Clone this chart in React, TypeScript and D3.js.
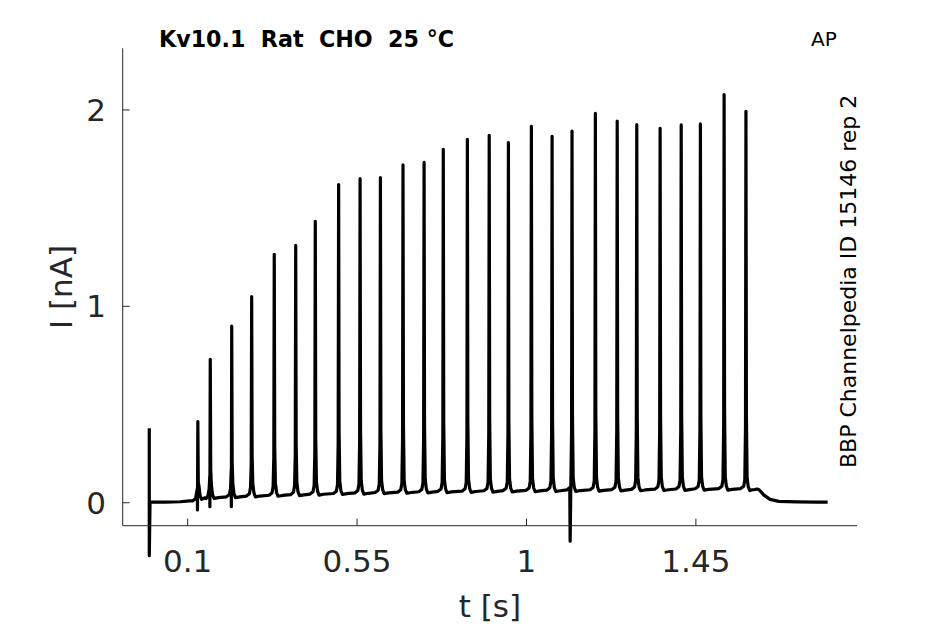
import * as d3 from "d3";

// AP train recording
const spikeT = [0.127, 0.160, 0.217, 0.270, 0.330, 0.387, 0.439, 0.501, 0.558, 0.612, 0.672, 0.728, 0.779, 0.843, 0.901, 0.952, 1.013, 1.068, 1.121, 1.183, 1.241, 1.293, 1.355, 1.411, 1.462, 1.525, 1.583];
const spikePeak = [0.413, 0.73, 0.90, 1.05, 1.265, 1.31, 1.433, 1.62, 1.65, 1.656, 1.72, 1.733, 1.80, 1.85, 1.871, 1.834, 1.917, 1.866, 1.892, 1.983, 1.943, 1.925, 1.907, 1.924, 1.929, 2.078, 1.993];
// inter-spike level after each spike
const spikeFloor = [0.025, 0.03, 0.034, 0.038, 0.041, 0.044, 0.047, 0.05, 0.052, 0.054, 0.056, 0.058, 0.059, 0.061, 0.062, 0.063, 0.064, 0.065, 0.066, 0.067, 0.068, 0.069, 0.07, 0.071, 0.072, 0.072, 0.07];

// stimulus artifact at the start
const stimT = -0.002;
const stimHi = 0.379;
const stimLo = -0.27;

// downward artifacts
const dipT = [0.126, 0.159, 0.216, 1.116];
const dipI = [-0.037, -0.02, -0.02, -0.196];

// resting trace before and after the train
const preT = [0.0, 0.04, 0.08, 0.105];
const preI = [0.003, 0.003, 0.005, 0.009];
const postT = [1.600, 1.612, 1.618, 1.630, 1.647, 1.67, 1.72, 1.77, 1.80];
const postI = [0.066, 0.07, 0.066, 0.04, 0.017, 0.007, 0.004, 0.003, 0.003];

const xTicks = [0.1, 0.55, 1, 1.45];
const yTicks = [0, 1, 2];

const width = 945;
const height = 624;
const left = 122.7, right = 857, top = 48.3, bottom = 525.7;
const ink = "#262626";

// spike shape around each event (seconds, nA relative to floor)
const rise = [[-0.014, 0], [-0.006, 0.012], [-0.003, 0.045], [-0.0012, 0.16]];
const fall = [[0.0012, 0.2], [0.003, 0.06], [0.006, 0.012], [0.010, -0.008], [0.022, -0.004]];

function buildTrace() {
  const pts: [number, number][] = [];
  pts.push([stimT, stimHi], [stimT, stimLo]);
  preT.forEach((t, i) => pts.push([t, preI[i]]));
  let prev = preI[preI.length - 1];
  spikeT.forEach((t, i) => {
    rise.forEach(([dt, dv]) => pts.push([t + dt, prev + (dv > 0.1 ? dv * (spikePeak[i] - prev) : dv)]));
    pts.push([t, spikePeak[i]]);
    const f = spikeFloor[i];
    fall.forEach(([dt, dv]) => pts.push([t + dt, f + (dv > 0.1 ? dv * (spikePeak[i] - f) : dv)]));
    prev = f;
  });
  dipT.forEach((d, j) => pts.push([d, dipI[j]]));
  postT.forEach((t, i) => pts.push([t, postI[i]]));
  return pts.sort((a, b) => a[0] - b[0]);
}

export default function App() {
  const x = d3.scaleLinear([-0.0726, 1.878], [left, right]);
  const y = d3.scaleLinear([-0.117, 2.314], [bottom, top]);
  const line = d3.line<[number, number]>().x(d => x(d[0])).y(d => y(d[1]));
  const trace = buildTrace();

  return (
    <svg width={width} height={height} style={{ position: "absolute", left: 0, top: 0, background: "#fff" }}
      fontFamily="DejaVu Sans">
      <path d={line(trace) ?? ""} fill="none" stroke="#000" strokeWidth={3.2} strokeLinejoin="round" />

      <g stroke={ink} strokeWidth={1} fill="none">
        <line x1={left} x2={left} y1={top} y2={bottom} />
        <line x1={left} x2={right} y1={bottom} y2={bottom} />
        {xTicks.map(t => <line key={t} x1={x(t)} x2={x(t)} y1={bottom} y2={bottom - 7} />)}
        {yTicks.map(t => <line key={t} x1={left} x2={left + 7} y1={y(t)} y2={y(t)} />)}
      </g>

      <g fill={ink} fontSize={31}>
        {xTicks.map(t => (
          <text key={t} x={x(t)} y={572} textAnchor="middle">{String(t)}</text>
        ))}
        {yTicks.map(t => (
          <text key={t} x={106} y={y(t) + 11} textAnchor="end">{String(t)}</text>
        ))}
        <text x={(left + right) / 2} y={617} textAnchor="middle">t [s]</text>
        <text transform={`translate(71.5,${(top + bottom) / 2}) rotate(-90)`} textAnchor="middle">I [nA]</text>
      </g>

      <text x={159} y={46.5} fontSize={22.2} fontWeight="bold" fill="#000" style={{ whiteSpace: "pre" }}>
        {"Kv10.1  Rat  CHO  25 °C"}
      </text>
      <text x={811} y={46} fontSize={20} fill="#000">AP</text>
      <text transform="translate(855.5,468) rotate(-90)" fontSize={22} fill="#000">
        BBP Channelpedia ID 15146 rep 2
      </text>
    </svg>
  );
}
